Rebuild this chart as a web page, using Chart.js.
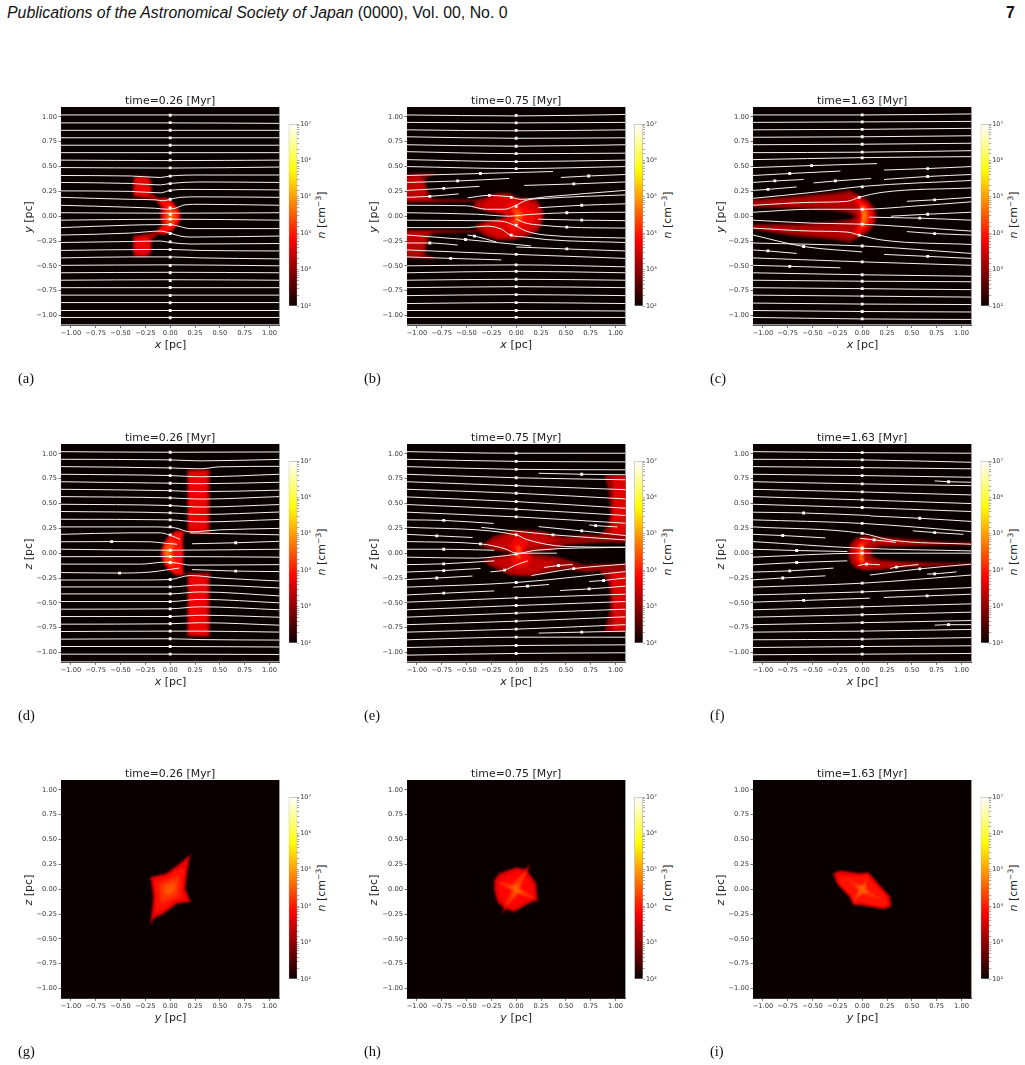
<!DOCTYPE html>
<html>
<head>
<meta charset="utf-8">
<title>Density slices</title>
<script src="https://cdn.jsdelivr.net/npm/chart.js@4/dist/chart.umd.js"></script>
<style>
  html, body { margin: 0; padding: 0; background: #fff; }
  #page { position: relative; width: 1025px; height: 1065px; overflow: hidden; }
  #page canvas { position: absolute; }
  .txt { position: absolute; white-space: nowrap; color: #222; font-family: "DejaVu Sans", sans-serif; font-size: 11px; line-height: 1; }
  .tag { font-family: "Liberation Serif", serif; font-size: 14.5px; color: #111; }
  .head { font-family: "Liberation Sans", sans-serif; font-size: 15.85px; color: #111; }
  sup { font-size: 7.5px; vertical-align: 4px; line-height: 0; }
</style>
</head>
<body>
<div id="page"></div>
<script>
const tickValues = [-1, -0.75, -0.5, -0.25, 0, 0.25, 0.5, 0.75, 1];
const colorbarRange = [100, 10000000];
const times = ['time=0.26 [Myr]', 'time=0.75 [Myr]', 'time=1.63 [Myr]'];
const tags = ['(a)', '(b)', '(c)', '(d)', '(e)', '(f)', '(g)', '(h)', '(i)'];
const xNames = ['x', 'x', 'y'];
const yNames = ['y', 'z', 'z'];

// density bands: first number is log10(n), the rest are x,y outline pairs in pc
const bandsA = [
  [3.2, -.375,.2, -.375,.37, -.35,.405, -.24,.405, -.19,.37, -.185,.235, -.12,.18, -.05,.19, .02,.15, .09,.07, .105,0, .09,-.07, .02,-.15, -.05,-.19, -.12,-.18, -.185,-.235, -.19,-.37, -.24,-.405, -.35,-.405, -.375,-.37, -.375,-.2, -.25,-.18, -.14,-.155, -.09,-.08, -.1,0, -.09,.08, -.14,.155, -.25,.18],
  [3.65, -.355,.22, -.355,.36, -.335,.385, -.255,.385, -.205,.355, -.205,.225, -.26,.2],
  [3.65, -.355,-.22, -.355,-.36, -.335,-.385, -.255,-.385, -.205,-.355, -.205,-.225, -.26,-.2],
  [3.85, -.12,.165, -.04,.175, .02,.135, .08,.06, .09,0, .08,-.06, .02,-.135, -.04,-.175, -.12,-.165, -.06,-.08, -.08,0, -.06,.08],
  [4.25, -.03,.12, .03,.09, .065,.03, .065,-.03, .03,-.09, -.03,-.12, -.045,-.05, -.05,0, -.045,.05],
  [4.7, -.005,.05, .03,.02, .03,-.02, -.005,-.05, -.015,0]
];
const bandsB = [
  [2.9, -1.12,.42, -1,.43, -.8,.435, -.92,.38, -.9,.3, -.87,.2, -.84,.175, -.7,.17, -.33,.16, -.33,.145, -.7,.14, -1.12,.14],
  [3.35, -1.12,.39, -1,.41, -.94,.38, -.925,.3, -.9,.2, -.85,.165, -.75,.155, -1.12,.155],
  [2.9, -1.12,-.42, -1,-.43, -.8,-.435, -.92,-.38, -.9,-.3, -.87,-.2, -.84,-.175, -.7,-.17, -.33,-.16, -.33,-.145, -.7,-.14, -1.12,-.14],
  [3.35, -1.12,-.39, -1,-.41, -.94,-.38, -.925,-.3, -.9,-.2, -.85,-.165, -.75,-.155, -1.12,-.155],
  [3.2, -.44,.09, -.4,.16, -.19,.23, -.06,.23, 0,.19, .1,.18, .21,.16, .27,.06, .28,0, .25,-.1, .21,-.16, .1,-.2, -.03,-.24, -.19,-.24, -.33,-.19, -.42,-.09, -.3,-.05, -.13,-.02, -.1,0, -.13,.02, -.3,.045],
  [3.55, -.36,.09, -.3,.15, -.18,.2, -.07,.2, .02,.16, .12,.15, .2,.11, .25,0, .2,-.11, .1,-.17, -.03,-.21, -.18,-.21, -.3,-.16, -.36,-.09, -.2,-.05, -.08,-.01, -.08,.01, -.2,.05],
  [3.85, -.1,.09, -.03,.17, .05,.1, .18,.04, .18,-.04, .05,-.1, -.03,-.17, -.1,-.09, -.02,-.02, -.02,.02],
  [4.3, -.05,.07, .02,.08, .07,.02, .07,-.02, .02,-.08, -.05,-.07, 0,0],
  [4.8, .0,.03, .03,.01, .03,-.01, .0,-.03, -.01,0]
];
const bandsC = [
  [2.9, -1.12,.165, -.7,.2, -.3,.235, -.12,.265, -.05,.225, .05,.175, .125,.085, .15,0, .125,-.085, .05,-.175, -.05,-.225, -.12,-.265, -.3,-.235, -.7,-.2, -1.12,-.13, -1.12,-.08, -.6,-.075, -.3,-.055, -.13,-.03, -.06,0, -.13,.03, -.3,.055, -.6,.075, -1.12,.09],
  [3.25, -1.12,.145, -.7,.175, -.3,.21, -.12,.23, -.03,.19, .06,.14, .11,.07, .13,0, .11,-.07, .06,-.14, -.03,-.19, -.12,-.23, -.3,-.21, -.7,-.175, -1.12,-.115, -1.12,-.1, -.6,-.1, -.3,-.08, -.13,-.06, -.04,0, -.13,.06, -.3,.08, -.6,.1, -1.12,.115],
  [3.8, -.1,.2, -.02,.17, .06,.11, .1,.05, .11,0, .1,-.05, .06,-.11, -.02,-.17, -.1,-.2, -.05,-.11, -.025,0, -.05,.11],
  [4.4, -.02,.13, .04,.09, .06,.04, .065,0, .06,-.04, .04,-.09, -.02,-.13, -.01,-.05, -.005,0, -.01,.05],
  [4.95, .005,.07, .025,.04, .03,0, .025,-.04, .005,-.07, .008,0]
];
const bandsD = [
  [3.2, -.095,0, -.07,.1, -.01,.18, .06,.225, .13,.225, .175,.21, .17,.84, .4,.84, .4,.195, .2,.2, .13,.205, .13,.1, .14,0, .13,-.1, .13,-.205, .2,-.2, .4,-.195, .4,-.84, .17,-.84, .175,-.21, .13,-.225, .06,-.225, -.01,-.18, -.07,-.1],
  [3.7, .19,.815, .37,.83, .37,.235, .19,.235],
  [3.7, .19,-.815, .37,-.83, .37,-.235, .19,-.235],
  [3.9, .05,.21, .13,.21, .115,.1, .125,0, .115,-.1, .13,-.21, .05,-.21, -.02,-.15, -.065,-.08, -.085,0, -.065,.08, -.02,.15],
  [4.3, .0,.13, .05,.11, .035,.04, .03,0, .035,-.04, .05,-.11, .0,-.13, -.055,-.07, -.07,0, -.055,.07],
  [4.75, -.03,.05, -.005,.04, -.01,0, -.005,-.04, -.03,-.05, -.05,0]
];
const bandsE = [
  [3.05, .89,.79, .94,.6, .95,.45, .93,.285, .845,.18, .7,.19, .48,.16, .24,.225, 0,.235, -.23,.17, -.36,.07, -.23,.03, -.03,0, -.19,-.03, -.345,-.07, -.26,-.13, -.06,-.225, .14,-.235, .48,-.16, .7,-.19, .845,-.18, .93,-.285, .95,-.45, .94,-.6, .89,-.79, 1.12,-.79, 1.12,-.11, .9,-.11, .68,-.12, .41,-.035, .14,0, .34,.03, .51,.085, .9,.11, 1.12,.11, 1.12,.79],
  [3.6, .97,.77, 1.12,.77, 1.12,.2, .95,.19, .96,.3, .98,.5],
  [3.6, .97,-.77, 1.12,-.77, 1.12,-.2, .95,-.19, .96,-.3, .98,-.5],
  [3.4, -.28,.09, -.12,.17, 0,.21, .24,.19, .45,.13, .2,.07, .05,.03, -.1,.04],
  [3.4, -.28,-.08, -.12,-.15, 0,-.21, .14,-.21, .3,-.15, .42,-.1, .2,-.05, .05,-.03, -.1,-.04],
  [3.8, -.07,.08, .0,.16, .13,.12, .07,.03, .15,-.03, .12,-.12, .0,-.16, -.06,-.06, -.02,0],
  [4.3, -.01,.07, .04,.08, .05,.02, .05,-.03, .03,-.07, -.005,-.03, .01,.01]
];
const bandsF = [
  [3.0, -.137,0, -.125,.09, -.07,.15, .01,.175, .18,.165, .45,.145, .8,.115, 1.12,.11, 1.12,.08, .8,.08, .45,.07, .18,.065, .1,.03, .095,0, .1,-.03, .18,-.065, .45,-.085, .8,-.095, 1.12,-.1, 1.12,-.12, .8,-.13, .45,-.14, .18,-.17, .01,-.175, -.07,-.15, -.125,-.09],
  [3.35, -.115,0, -.1,.08, -.05,.135, .01,.155, .15,.145, .4,.125, .7,.095, .4,.09, .16,.09, .06,.05, .06,-.05, .16,-.09, .4,-.105, .7,-.115, .4,-.13, .15,-.15, .01,-.155, -.05,-.135, -.1,-.08],
  [3.9, -.07,0, -.06,.07, -.02,.12, .03,.14, .07,.11, .02,.07, .01,0, .02,-.07, .07,-.11, .03,-.14, -.02,-.12, -.06,-.07],
  [4.6, -.03,0, -.025,.07, 0,.1, .015,.07, .01,0, .015,-.07, 0,-.1, -.025,-.07]
];
const bandsG = [
  [3.7, .208,.352, .185,.275, .168,.158, .15,.007, .195,-.11, .21,-.125, .067,-.144, -.067,-.245, -.168,-.295, -.2,-.362, -.185,-.245, -.168,-.077, -.19,.09, -.205,.117, -.034,.158, .1,.258],
  [3.95, .15,.21, .13,.1, .115,0, .14,-.09, .05,-.115, -.07,-.2, -.15,-.235, -.14,-.075, -.16,.08, -.03,.125, .08,.2],
  [4.2, .09,.13, .085,0, .08,-.06, 0,-.1, -.09,-.14, -.1,-.05, -.11,.05, -.03,.09],
  [4.45, .05,.07, .05,-.01, -.01,-.06, -.06,-.04, -.06,.03, -.01,.05]
];
const bandsH = [
  [3.6, -.22,.09, -.17,.158, 0,.218, .09,.2, .14,.25, .115,.18, .2,.057, .215,-.11, .25,-.12, .19,-.115, .097,-.16, -.02,-.228, -.1,-.2, -.154,-.25, -.12,-.19, -.188,-.128, -.22,-.01],
  [3.85, -.17,.07, -.12,.125, 0,.185, .09,.15, .165,.05, .18,-.08, .09,-.13, -.02,-.19, -.09,-.165, -.15,-.11, -.185,-.01],
  [4.2, -.2,.075, -.05,.05, .11,.19, .04,.01, .2,-.1, .02,-.05, -.12,-.19, -.045,-.01],
  [4.55, -.07,.03, -.02,.03, .03,.07, .025,.01, .07,-.04, .01,-.03, -.03,-.08, -.02,-.01]
];
const bandsI = [
  [3.7, -.29,.158, -.22,.185, -.02,.158, .064,.168, .13,.09, .28,-.077, .29,-.178, .215,-.2, -.02,-.16, -.087,-.16, -.128,-.077, -.255,.057],
  [3.95, -.24,.135, -.02,.13, .05,.14, .1,.07, .245,-.08, .25,-.16, .2,-.175, -.02,-.135, -.08,-.135, -.105,-.07, -.225,.05],
  [4.2, -.15,.1, .0,.03, .06,.13, .03,.0, .19,-.095, .0,-.05, -.09,-.13, -.04,-.01],
  [4.55, -.06,.035, .0,.035, .04,.06, .03,.0, .07,-.04, .0,-.035, -.04,-.07, -.03,.0]
];

// streamlines as flat x,y lists in pc
const linesA = [
  [-1.1,1.02, 0,1.02, 1.1,1.02], [-1.1,.94, 0,.94, 1.1,.935], [-1.1,.865, 0,.865, 1.1,.865], [-1.1,.79, 0,.79, 1.1,.79],
  [-1.1,.715, 0,.715, 1.1,.715], [-1.1,.64, 0,.64, 1.1,.64], [-1.1,.565, 0,.56, 1.1,.565], [-1.1,.49, 0,.485, 1.1,.495],
  [-1.1,.41, -.4,.405, -.1,.39, 0,.405, .3,.415, 1.1,.415], [-1.1,.34, -.4,.33, -.1,.315, 0,.33, .3,.345, 1.1,.34],
  [-1.1,.255, -.4,.25, -.1,.235, 0,.26, .2,.27, 1.1,.265], [-1.1,.19, -.4,.17, -.15,.165, -.07,.155, 0,.17, .1,.19, .3,.195, 1.1,.19],
  [-1.1,.11, -.4,.09, -.15,.08, -.03,.07, .05,.08, .15,.115, .3,.12, 1.1,.11], [-1.1,.035, 0,.03, 1.1,.035], [-1.1,-.04, 0,-.03, 1.1,-.04],
  [-1.1,-.115, -.4,-.09, -.1,-.085, 0,-.085, .1,-.105, .2,-.125, 1.1,-.125], [-1.1,-.19, -.4,-.17, -.1,-.15, 0,-.17, .1,-.2, .2,-.21, 1.1,-.2],
  [-1.1,-.265, -.4,-.255, -.1,-.25, 0,-.265, .2,-.28, 1.1,-.275], [-1.1,-.345, -.2,-.335, 0,-.335, .3,-.345, 1.1,-.35],
  [-1.1,-.42, -.4,-.41, 0,-.41, .3,-.42, 1.1,-.43], [-1.1,-.495, 0,-.49, 1.1,-.5], [-1.1,-.57, 0,-.565, 1.1,-.57], [-1.1,-.645, 0,-.64, 1.1,-.645],
  [-1.1,-.72, 0,-.72, 1.1,-.72], [-1.1,-.795, 0,-.795, 1.1,-.795], [-1.1,-.87, 0,-.87, 1.1,-.87], [-1.1,-.95, 0,-.95, 1.1,-.95],
  [-1.1,-1.02, 0,-1.02, 1.1,-1.02], [-1.1,-1.095, 0,-1.095, 1.1,-1.095]
];
const linesB = [
  [-1.1,1.02, 0,1.01, 1.1,1.025], [-1.1,.945, 0,.94, 1.1,.945], [-1.1,.87, 0,.86, 1.1,.87], [-1.1,.8, 0,.785, 1.1,.79],
  [-1.1,.72, 0,.705, 1.1,.72], [-1.1,.65, 0,.63, 1.1,.635], [-1.1,.57, 0,.55, 1.1,.565], [-1.1,.5, 0,.48, 1.1,.5],
  [-1.1,.41, -.36,.43, .37,.45], [-1.1,.34, -.59,.355, -.07,.38], [.08,.31, .58,.325, 1.1,.345], [.45,.39, .73,.405, 1.1,.42],
  [-1.1,.26, -.73,.28, -.37,.3], [-1.1,.19, -.87,.2, -.58,.225], [-.49,.185, -.27,.21, -.05,.195],
  [-.05,.19, .05,.17, .3,.195, 1.1,.26], [-1.1,.11, -.5,.105, -.3,.07, -.12,.07, -.02,.1, .1,.16, .3,.18, 1.1,.215], [.22,.085, .66,.11, 1.1,.125],
  [-1.1,.035, -.4,.02, -.07,0, .1,.015, .51,.035, 1.1,.04], [.22,-.03, .66,-.04, 1.1,-.045], [0,-.03, .1,-.07, .25,-.09, .51,-.11, 1.1,-.12],
  [-1.1,-.04, -.4,-.045, -.15,-.05, -.02,-.09, .1,-.15, .3,-.19, 1.1,-.22], [-1.1,-.115, -.5,-.115, -.3,-.1, -.15,-.13, -.06,-.19, .1,-.21, .3,-.235, 1.1,-.265],
  [-.49,-.19, -.42,-.2, -.2,-.26], [-1.1,-.19, -.51,-.235, .15,-.3], [-1.1,-.27, -.87,-.27, -.59,-.29], [0,-.31, .51,-.33, 1.1,-.35],
  [-1.1,-.34, 0,-.385, 1.1,-.425], [-1.1,-.41, -.66,-.425, -.15,-.44], [-1.1,-.5, 0,-.49, 1.1,-.51], [-1.1,-.57, 0,-.555, 1.1,-.57],
  [-1.1,-.645, 0,-.635, 1.1,-.645], [-1.1,-.72, 0,-.71, 1.1,-.72], [-1.1,-.8, 0,-.79, 1.1,-.8], [-1.1,-.88, 0,-.87, 1.1,-.88],
  [-1.1,-.95, 0,-.95, 1.1,-.955], [-1.1,-1.02, 0,-1.02, 1.1,-1.02], [-1.1,-1.095, 0,-1.095, 1.1,-1.095]
];
const linesC = [
  [-1.1,1.02, 0,1.02, 1.1,1.03], [-1.1,.945, 0,.95, 1.1,.955], [-1.1,.87, 0,.875, 1.1,.885], [-1.1,.795, 0,.8, 1.1,.81],
  [-1.1,.72, 0,.725, 1.1,.735], [-1.1,.64, 0,.645, 1.1,.66], [-1.1,.57, 0,.59, 1.1,.6], [-1.1,.49, -.51,.51, .15,.53],
  [-1.1,.41, -.73,.43, -.22,.455], [.22,.465, .66,.48, 1.1,.5], [-1.1,.34, -.88,.355, -.59,.37], [.22,.37, .66,.4, 1.1,.42],
  [-.49,.335, -.27,.355, .09,.38], [-1.1,.26, -.95,.27, -.66,.295], [-1.1,.18, -.5,.24, 0,.3, 1.1,.36],
  [-1.1,.11, -.5,.14, -.15,.15, -.03,.19, .2,.24, 1.1,.285], [.45,.15, .73,.165, 1.1,.19], [-1.1,.04, -.5,.07, 0,.07, .5,.1, 1.1,.145],
  [.29,0, .66,.02, 1.1,.04], [.07,-.01, .58,-.02, 1.1,-.04], [-1.1,-.04, -.5,-.07, 0,-.08, .5,-.11, 1.1,-.15], [.45,-.155, .73,-.175, 1.1,-.19],
  [-1.1,-.12, -.5,-.15, -.15,-.16, -.03,-.19, .2,-.24, 1.1,-.285], [-1.1,-.19, -.59,-.305, 0,-.36], [-1.1,-.27, 0,-.3, 1.1,-.375],
  [-1.1,-.34, -.95,-.35, -.66,-.375], [.22,-.385, .66,-.405, 1.1,-.425], [-1.1,-.42, 0,-.46, 1.1,-.495], [-1.1,-.495, -.73,-.505, -.22,-.52],
  [-1.1,-.57, 0,-.59, 1.1,-.605], [-1.1,-.645, 0,-.655, 1.1,-.66], [-1.1,-.72, 0,-.73, 1.1,-.74], [-1.1,-.795, 0,-.805, 1.1,-.815],
  [-1.1,-.875, 0,-.885, 1.1,-.89], [-1.1,-.95, 0,-.96, 1.1,-.965], [-1.1,-1.02, 0,-1.035, 1.1,-1.04], [-1.1,-1.095, 0,-1.095, 1.1,-1.095]
];
const linesD = [
  [-1.1,1.023, 0,1.017, 1.1,1.02], [-1.1,.946, 0,.94, .3,.93, 1.1,.945], [-1.1,.872, 0,.859, .3,.85, .5,.87, 1.1,.875], [-1.1,.795, 0,.782, .3,.77, 1.1,.795],
  [-1.1,.72, 0,.705, .3,.7, 1.1,.715], [-1.1,.644, 0,.63, .3,.62, 1.1,.635], [-1.1,.57, 0,.557, .3,.545, 1.1,.57], [-1.1,.493, 0,.48, .3,.465, 1.1,.49],
  [-1.1,.42, 0,.406, .3,.39, 1.1,.415], [-1.1,.342, 0,.336, .3,.315, 1.1,.34], [-1.1,.265, -.2,.265, .05,.255, .2,.215, .3,.22, .5,.235, 1.1,.25],
  [-1.1,.19, -.4,.205, -.1,.205, 0,.18, .1,.14], [.2,.205, .4,.2, 1.1,.185], [-1.1,.115, -.59,.117, -.2,.115, -.05,.1, .07,.09], [.22,.095, .66,.105, 1.1,.12],
  [-1.1,.04, 0,.03, 1.1,.04], [-1.1,-.035, 0,-.034, 1.1,-.04], [-1.1,-.11, -.3,-.11, -.05,-.09, .07,-.1, .2,-.12, 1.1,-.115],
  [-1.1,-.195, -.51,-.2, -.2,-.19, -.05,-.17, .09,-.15], [.22,-.165, .66,-.18, 1.1,-.185], [-1.1,-.27, -.3,-.27, 0,-.265, .2,-.225, .5,-.25, 1.1,-.28],
  [-1.1,-.34, 0,-.34, .3,-.32, 1.1,-.35], [-1.1,-.41, 0,-.41, .3,-.39, 1.1,-.43], [-1.1,-.487, 0,-.487, .3,-.465, 1.1,-.5], [-1.1,-.564, 0,-.56, .3,-.54, 1.1,-.57],
  [-1.1,-.638, 0,-.638, .3,-.625, 1.1,-.645], [-1.1,-.715, 0,-.711, .3,-.7, 1.1,-.725], [-1.1,-.789, 0,-.785, .3,-.785, 1.1,-.795], [-1.1,-.866, 0,-.862, .3,-.87, 1.1,-.875],
  [-1.1,-.94, 0,-.94, 1.1,-.945], [-1.1,-1.017, 0,-1.017, 1.1,-1.02], [-1.1,-1.095, 0,-1.095, 1.1,-1.095]
];
const linesE = [
  [-1.1,1.023, 0,1.007, 1.1,1.007], [-1.1,.946, 0,.925, 1.1,.92], [-1.1,.872, 0,.845, 1.1,.84], [-1.1,.795, 0,.76, 1.1,.74], [-1.1,.72, 0,.68, 1.1,.64],
  [-1.1,.644, 0,.604, 1.1,.547], [-1.1,.567, 0,.52, 1.1,.453], [-1.1,.49, 0,.443, 1.1,.38], [-1.1,.413, 0,.366, 1.1,.302], [-1.1,.336, -.73,.33, -.228,.3],
  [-.35,.26, .37,.185, 1.1,.134], [-1.1,.262, 0,.185, .1,.14, .51,.067, 1.1,.06], [-1.1,.19, -.8,.175, -.44,.158], [.225,.268, .66,.225, 1.1,.178], [.735,.285, .8,.278, 1.02,.265],
  [.225,.805, .66,.795, 1.1,.79], [-1.1,.117, -.36,.094, -.1,.04, 0,0, .41,0], [-1.1,.04, -.73,.04, -.22,.03], [-1.1,-.04, -.4,-.05, -.2,-.035, 0,-.01, .2,.03, 1.1,.06],
  [-1.1,-.115, -.73,-.107, -.22,-.077], [-1.1,-.19, -.73,-.175, -.36,-.154], [-1.1,-.265, -.8,-.25, -.44,-.23], [-.26,-.188, -.117,-.17, 0,-.117, .117,-.077],
  [.154,-.225, .58,-.155, 1.1,-.11], [.28,-.144, .426,-.124, .57,-.114], [-1.1,-.342, 0,-.295, 1.1,-.185], [-1.1,-.42, -.73,-.403, -.22,-.38],
  [-.03,-.342, .114,-.332, .33,-.315], [.735,-.285, .88,-.275, 1.1,-.25], [.44,-.376, .735,-.36, 1.1,-.332], [-1.1,-.493, 0,-.45, 1.1,-.413], [-1.1,-.57, 0,-.527, 1.1,-.487],
  [-1.1,-.644, 0,-.604, 1.1,-.564], [-1.1,-.72, 0,-.685, 1.1,-.641], [-1.1,-.795, 0,-.765, 1.1,-.72], [.225,-.805, .66,-.795, 1.1,-.785], [-1.1,-.872, 0,-.846, 1.1,-.846],
  [-1.1,-.95, 0,-.93, 1.1,-.923], [-1.1,-1.027, 0,-1.01, 1.1,-1.003], [-1.1,-1.095, 0,-1.095, 1.1,-1.095]
];
const linesF = [
  [-1.1,1.023, 0,1.013, 1.1,1.007], [-1.1,.946, 0,.94, 1.1,.916], [-1.1,.872, 0,.862, 1.1,.85], [-1.1,.795, 0,.782, 1.1,.765], [-1.1,.72, 0,.698, 1.1,.68],
  [-1.1,.644, 0,.617, 1.1,.587], [-1.1,.57, 0,.537, 1.1,.5], [-1.1,.493, 0,.46, 1.1,.42], [.73,.728, .87,.72, 1.1,.715], [-1.1,.413, -.59,.405, .08,.38],
  [.08,.375, .58,.352, 1.1,.32], [-1.1,.336, 0,.3, 1.1,.218], [.51,.225, .73,.208, 1.02,.19], [-1.1,.265, 0,.2, .28,.134, 1.1,.09], [-1.1,.19, -.8,.178, -.37,.154],
  [-1.1,.117, 0,.05, 1.1,.023], [-.02,.15, .12,.134, .34,.11], [-1.1,.04, -.66,.027, -.15,.017], [-1.1,-.04, 0,0, 1.1,0], [-1.1,-.117, -.66,-.094, -.15,-.077],
  [-.04,-.124, .044,-.11, .18,-.117], [-1.1,-.19, -.73,-.178, -.29,-.15], [-1.1,-.268, -.8,-.25, -.37,-.228], [.077,-.22, .58,-.158, 1.1,-.11], [.28,-.154, .345,-.14, .567,-.114],
  [.654,-.21, .73,-.208, .95,-.188], [-1.1,-.342, 0,-.302, 1.1,-.22], [-1.1,-.42, 0,-.39, 1.1,-.346], [-1.1,-.493, -.59,-.476, .077,-.453], [.218,-.446, .654,-.43, 1.1,-.413],
  [-1.1,-.57, 0,-.54, 1.1,-.51], [-1.1,-.644, 0,-.62, 1.1,-.594], [-1.1,-.72, 0,-.7, 1.1,-.678], [.73,-.725, .87,-.72, 1.1,-.72], [-1.1,-.795, 0,-.785, 1.1,-.768],
  [-1.1,-.872, 0,-.866, 1.1,-.85], [-1.1,-.95, 0,-.94, 1.1,-.933], [-1.1,-1.023, 0,-1.017, 1.1,-1.01], [-1.1,-1.095, 0,-1.095, 1.1,-1.095]
];

// arrowhead positions along the streamlines, flat x,y lists in pc
const arrowsA = [0,1.017, 0,.943, 0,.866, 0,.789, 0,.715, 0,.638, 0,.564, 0,.487, 0,.403, 0,.329, 0,.258, 0,.171, 0,.084, 0,.02, 0,-.03, 0,-.084, 0,-.174, 0,-.258, 0,-.336, 0,-.413, 0,-.497, 0,-.57, 0,-.648, 0,-.718, 0,-.799, 0,-.872, 0,-.95, 0,-1.023];
const arrowsB = [0,1.015, 0,.94, 0,.865, 0,.785, 0,.705, 0,.63, 0,.55, 0,.48, -.36,.43, -.59,.355, -.73,.28, -.87,.2, .73,.405, .58,.325, -.27,.21, -.05,.19, 0,.1, .66,.11, .51,.035, .66,-.04, .51,-.11, 0,-.09, -.05,-.19, -.42,-.2, -.51,-.235, -.87,-.27, .51,-.33, 0,-.385, -.66,-.425, 0,-.49, 0,-.555, 0,-.635, 0,-.71, 0,-.79, 0,-.87, 0,-.95, 0,-1.02];
const arrowsC = [0,1.02, 0,.95, 0,.875, 0,.8, 0,.725, 0,.645, 0,.587, -.51,.51, -.73,.43, .66,.48, .66,.4, -.88,.355, -.27,.355, -.95,.27, 0,.295, -.03,.19, .73,.165, 0,.07, .66,.02, .58,-.02, 0,-.08, -.03,-.19, .73,-.175, -.59,-.305, 0,-.3, -.95,-.35, .66,-.405, 0,-.46, -.73,-.505, 0,-.59, 0,-.655, 0,-.73, 0,-.805, 0,-.885, 0,-.96, 0,-1.035];
const arrowsD = [0,1.017, 0,.94, 0,.859, 0,.782, 0,.705, 0,.63, 0,.557, 0,.48, 0,.406, 0,.336, 0,.265, 0,.185, -.59,.117, .66,.105, 0,.03, 0,-.034, 0,-.094, -.51,-.2, .66,-.18, 0,-.265, 0,-.34, 0,-.41, 0,-.487, 0,-.56, 0,-.638, 0,-.711, 0,-.785, 0,-.862, 0,-.94, 0,-1.017];
const arrowsE = [0,1.007, 0,.925, 0,.845, 0,.76, 0,.68, 0,.604, 0,.52, 0,.443, 0,.366, .66,.795, -.73,.33, .8,.278, .66,.225, .37,.185, 0,.185, -.8,.175, -.36,.094, -.73,.04, 0,-.01, -.73,-.107, -.73,-.175, .426,-.124, .58,-.155, -.117,-.17, -.8,-.25, .88,-.275, 0,-.295, .114,-.332, .735,-.36, -.73,-.403, 0,-.45, 0,-.527, 0,-.604, 0,-.685, 0,-.765, .66,-.795, 0,-.846, 0,-.93, 0,-1.01];
const arrowsF = [0,1.013, 0,.94, 0,.862, 0,.782, 0,.698, 0,.617, 0,.537, 0,.46, .87,.72, -.59,.405, .58,.352, 0,.3, .73,.208, 0,.2, -.8,.178, .12,.134, 0,.05, -.66,.027, 0,0, -.66,-.094, .044,-.11, .345,-.14, -.73,-.178, .58,-.158, .73,-.208, -.8,-.25, 0,-.302, 0,-.39, .654,-.43, -.59,-.476, 0,-.54, 0,-.62, 0,-.7, .87,-.72, 0,-.785, 0,-.866, 0,-.94, 0,-1.017];

const panelBands = [bandsA, bandsB, bandsC, bandsD, bandsE, bandsF, bandsG, bandsH, bandsI];
const panelLines = [linesA, linesB, linesC, linesD, linesE, linesF, [], [], []];
const panelArrows = [arrowsA, arrowsB, arrowsC, arrowsD, arrowsE, arrowsF, [], [], []];

const colLefts = [61.3, 407, 753.3];
const rowTops = [107.3, 444.3, 780.3];
const plotSize = 218.4;
const page = document.getElementById('page');

// matplotlib "hot" colormap, level is log10(n)
function hot(level) {
    const t = (level - 2) / 5;
    const r = Math.min(1, 0.0416 + t * 0.9584 / 0.365);
    const g = Math.max(0, Math.min(1, (t - 0.365) / 0.381));
    const b = Math.max(0, Math.min(1, (t - 0.746) / 0.254));
    return `rgb(${Math.round(r * 255)},${Math.round(g * 255)},${Math.round(b * 255)})`;
}

function toPoints(flat) {
    const pts = [];
    for (let i = 0; i < flat.length; i += 2) {
        pts.push({ x: flat[i], y: flat[i + 1] });
    }
    return pts;
}

// filled contour band with slightly soft edges
class ContourController extends Chart.ScatterController {
    draw() {
        const ctx = this.chart.ctx;
        const pts = this.getMeta().data;
        ctx.save();
        ctx.filter = `blur(${this.getDataset().soft}px)`;
        ctx.fillStyle = this.getDataset().backgroundColor;
        ctx.beginPath();
        pts.forEach((p, i) => i ? ctx.lineTo(p.x, p.y) : ctx.moveTo(p.x, p.y));
        ctx.closePath();
        ctx.fill();
        ctx.restore();
    }
}
ContourController.id = 'contour';
ContourController.defaults = Chart.ScatterController.defaults;
Chart.register(ContourController);

function addText(html, x, y, cls, transform) {
    const el = document.createElement('div');
    el.className = 'txt ' + (cls || '');
    el.innerHTML = html;
    el.style.left = x + 'px';
    el.style.top = y + 'px';
    el.style.transform = transform || 'translate(-50%,-50%)';
    page.appendChild(el);
}

function addCanvas(x, y, w, h) {
    const c = document.createElement('canvas');
    c.width = w;
    c.height = h;
    c.style.left = x + 'px';
    c.style.top = y + 'px';
    c.style.width = w + 'px';
    c.style.height = h + 'px';
    page.appendChild(c);
    return c;
}

function axisStyle() {
    return {
        grid: { drawOnChartArea: false, tickLength: 2.5, tickColor: '#333', tickWidth: 0.7 },
        border: { color: '#333', width: 0.8 },
        ticks: {
            color: '#333', font: { family: 'DejaVu Sans', size: 6.7 }, padding: 1.5,
            maxRotation: 0, autoSkip: false,
            callback: v => v.toFixed(2).replace('-', '\u2212')
        },
        afterBuildTicks: s => { s.ticks = tickValues.map(v => ({ value: v })); }
    };
}

function drawPanel(index) {
    const col = index % 3, row = Math.floor(index / 3);
    const left = colLefts[col], top = rowTops[row];
    const datasets = [];
    panelArrows[index].length && datasets.push({
        data: toPoints(panelArrows[index]), order: 0, clip: 0,
        pointStyle: 'rect', pointRadius: 2, backgroundColor: '#fff', borderWidth: 0
    });
    panelLines[index].forEach(line => datasets.push({
        data: toPoints(line), order: 1, clip: 0, showLine: true, pointRadius: 0,
        borderColor: 'rgba(255,255,255,0.95)', borderWidth: 1, cubicInterpolationMode: 'monotone'
    }));
    panelBands[index].forEach((band, i) => datasets.push({
        type: 'contour', data: toPoints(band.slice(1)), order: 100 - i, clip: 0,
        backgroundColor: hot(band[0]), soft: 1.1, pointRadius: 0
    }));
    // low end of the colormap fills the whole plot
    datasets.push({
        type: 'contour', data: toPoints([-1.3, -1.3, 1.3, -1.3, 1.3, 1.3, -1.3, 1.3]), order: 200, clip: 0,
        backgroundColor: hot(2), soft: 0, pointRadius: 0
    });

    const canvasW = 276, canvasH = 258;
    const canvas = addCanvas(left - 46, top - 22, canvasW, canvasH);
    new Chart(canvas, {
        type: 'scatter',
        data: { datasets },
        options: {
            responsive: false,
            animation: false,
            events: [],
            layout: { autoPadding: false, padding: { left: 0.7, right: canvasW - 46 - plotSize, top: 0, bottom: canvasH - 22 - plotSize - 18 } },
            plugins: {
                legend: { display: false },
                tooltip: { enabled: false },
                title: {
                    display: true, text: times[col], color: '#222', fullSize: false,
                    font: { family: 'DejaVu Sans', size: 10.9, weight: 'normal', lineHeight: 1 },
                    padding: { top: 10.9, bottom: 0.2 }
                }
            },
            scales: {
                x: Object.assign(axisStyle(), { type: 'linear', min: -1.1, max: 1.1, afterFit: s => { s.height = 18; } }),
                y: Object.assign(axisStyle(), { type: 'linear', min: -1.1, max: 1.1, afterFit: s => { s.width = 45.3; } })
            }
        }
    });

    addText(`<i>${xNames[row]}</i> [pc]`, left + plotSize / 2, top + plotSize + 18.2);
    addText(`<i>${yNames[row]}</i> [pc]`, left - 33.6, top + plotSize / 2, '', 'translate(-50%,-50%) rotate(-90deg)');
    addText(`<i>n</i> [cm<sup>\u22123</sup>]`, left + 259.6, top + plotSize / 2 - 2, '', 'translate(-50%,-50%) rotate(-90deg)');
    addText(tags[index], [18, 364, 710][col], top + plotSize + 52.5, 'tag', 'translate(0,-50%)');
    drawColorbar(left + 227.4, top + 16.7);
}

const superscripts = { 2: '\u00b2', 3: '\u00b3', 4: '\u2074', 5: '\u2075', 6: '\u2076', 7: '\u2077' };

function drawColorbar(x, y) {
    const canvas = addCanvas(Math.floor(x), Math.floor(y) - 6, 32, 194);
    const padX = x - Math.floor(x), padY = y - Math.floor(y) + 6;
    new Chart(canvas, {
        type: 'bar',
        data: {
            labels: ['n'],
            datasets: [{
                data: [colorbarRange],
                barPercentage: 1,
                categoryPercentage: 1,
                borderColor: '#999',
                borderWidth: 0.8,
                borderSkipped: false,
                backgroundColor: c => {
                    const area = c.chart.chartArea;
                    if (!area) return '#000';
                    const g = c.chart.ctx.createLinearGradient(0, area.bottom, 0, area.top);
                    for (let i = 0; i <= 20; i++) {
                        g.addColorStop(i / 20, hot(2 + 5 * i / 20));
                    }
                    return g;
                }
            }]
        },
        options: {
            responsive: false,
            animation: false,
            events: [],
            layout: { autoPadding: false, padding: { left: padX, right: 0, top: padY, bottom: 194 - padY - 182 } },
            plugins: { legend: { display: false }, tooltip: { enabled: false } },
            scales: {
                x: { display: false },
                y: {
                    type: 'logarithmic', position: 'right',
                    min: colorbarRange[0], max: colorbarRange[1],
                    afterFit: s => { s.width = 32 - padX - 8.6; },
                    grid: { drawOnChartArea: false, tickLength: 2, tickColor: '#555', tickWidth: 0.5 },
                    border: { display: false },
                    ticks: {
                        color: '#333', font: { family: 'DejaVu Sans', size: 6.4 }, padding: 1,
                        autoSkip: false, maxRotation: 0,
                        callback: v => {
                            const p = Math.log10(v);
                            return Math.abs(p - Math.round(p)) < 1e-6 ? '10' + superscripts[Math.round(p)] : '';
                        }
                    }
                }
            }
        }
    });
}

addText('<i>Publications of the Astronomical Society of Japan</i> (0000), Vol. 00, No. 0', 7, 13, 'head', 'translate(0,-50%)');
addText('<b>7</b>', 1006, 13, 'head', 'translate(0,-50%)');

for (let i = 0; i < 9; i++) {
    drawPanel(i);
}
</script>
</body>
</html>
